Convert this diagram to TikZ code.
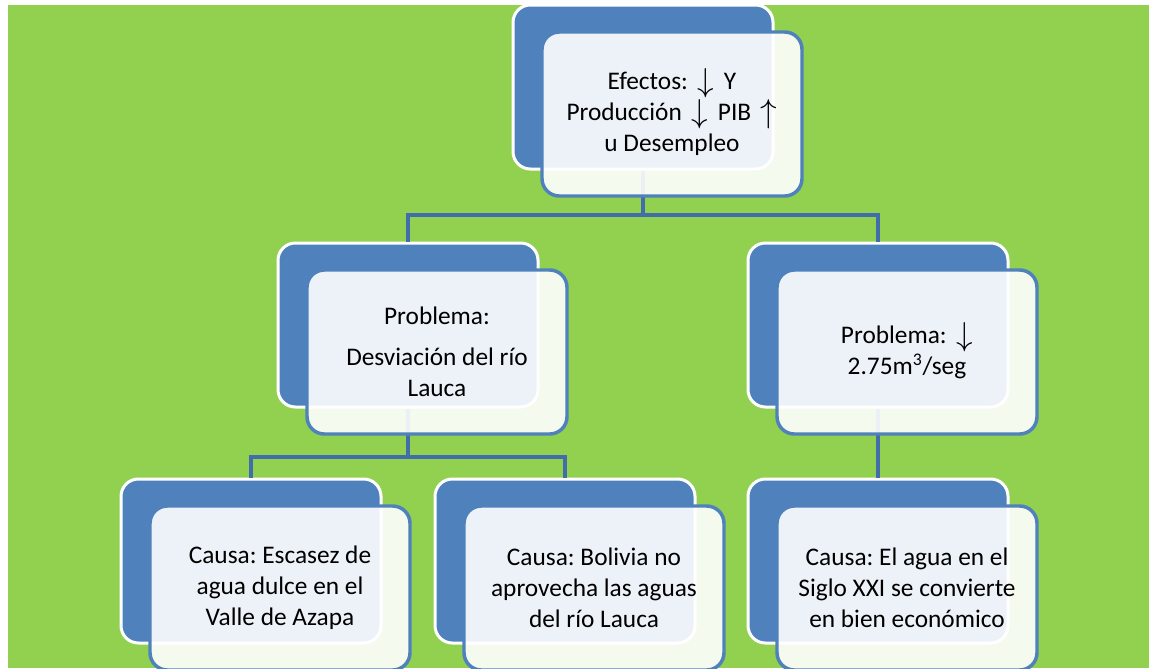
\documentclass[tikz,border=0pt]{standalone}
\usepackage{fontspec}
\setmainfont{Carlito}
\newcommand\dnarrow{\hspace{3pt}\smash{\raisebox{-1.5pt}{\fontsize{23pt}{23pt}\selectfont$\downarrow$}}\hspace{3pt}}
\newcommand\uparr{\hspace{3pt}\smash{\raisebox{-1.5pt}{\fontsize{23pt}{23pt}\selectfont$\uparrow$}}\hspace{3pt}}
\usepackage{tikz}
\usetikzlibrary{positioning,calc}
\frenchspacing

\begin{document}
\begin{tikzpicture}[x=0.75pt,y=-0.75pt,
	backbox/.style={draw=white, line width=2.25pt, fill=custcol_4f_81_bd, rounded corners=13pt,
		minimum width=195pt, minimum height=123pt, inner sep=0pt},
	frontbox/.style={draw=custcol_4f_81_bd, line width=2.6pt, fill=white, fill opacity=0.9, text opacity=1,
		rounded corners=13pt, minimum width=195pt, minimum height=123pt, inner sep=0pt, align=center,
		font=\fontsize{19pt}{23.25pt}\selectfont},
	link/.style={draw=custcol_41_6e_aa, line width=3pt}]
	\definecolor{custcol_92_d0_50}{RGB}{146, 208, 80}
	\definecolor{custcol_4f_81_bd}{RGB}{79, 129, 189}
	\definecolor{custcol_41_6e_aa}{RGB}{65, 110, 170}
	\useasboundingbox (0,0) rectangle (1149,668);
	\fill [custcol_92_d0_50] (8,5) rectangle (1149,668);
	% back boxes
	\node [backbox] (topB) at (643,87) {};
	\node [backbox] (midLB) at (408,325) {};
	\node [backbox] (midRB) at (878,325) {};
	\node [backbox] (botLB) at (251,561) {};
	\node [backbox] (botMB) at (565,561) {};
	\node [backbox] (botRB) at (878,561) {};
	\coordinate (barA) at (0,215);
	\coordinate (barB) at (0,457);
	% links
	\draw [link] (topB.south) -- (topB.south |- barA) -| (midLB.north);
	\draw [link] (topB.south |- barA) -| (midRB.north);
	\draw [link] (midLB.south) -- (midLB.south |- barB) -| (botLB.north);
	\draw [link] (midLB.south |- barB) -| (botMB.north);
	\draw [link] (midRB.south) -- (botRB.north);
	% front boxes
	\node [frontbox] (topF) at ([shift={(29,27)}]topB.center) {Efectos: \dnarrow{} Y\\Producción \dnarrow{} PIB \uparr\\u Desempleo};
	\node [frontbox] (midLF) at ([shift={(29,27)}]midLB.center) {Problema:\\[7.5pt]Desviación del río\\Lauca};
	\node [frontbox] (midRF) at ([shift={(29,27)}]midRB.center) {Problema: \dnarrow\\2.75m\textsuperscript{3}/seg};
	\node [frontbox] (botLF) at ([shift={(29,27)}]botLB.center) {Causa: Escasez de\\agua dulce en el\\Valle de Azapa};
	\node [frontbox] (botMF) at ([shift={(29,27)}]botMB.center) {Causa: Bolivia no\\aprovecha las aguas\\del río Lauca};
	\node [frontbox] (botRF) at ([shift={(29,27)}]botRB.center) {Causa: El agua en el\\Siglo XXI se convierte\\en bien económico};
\end{tikzpicture}
\end{document}
